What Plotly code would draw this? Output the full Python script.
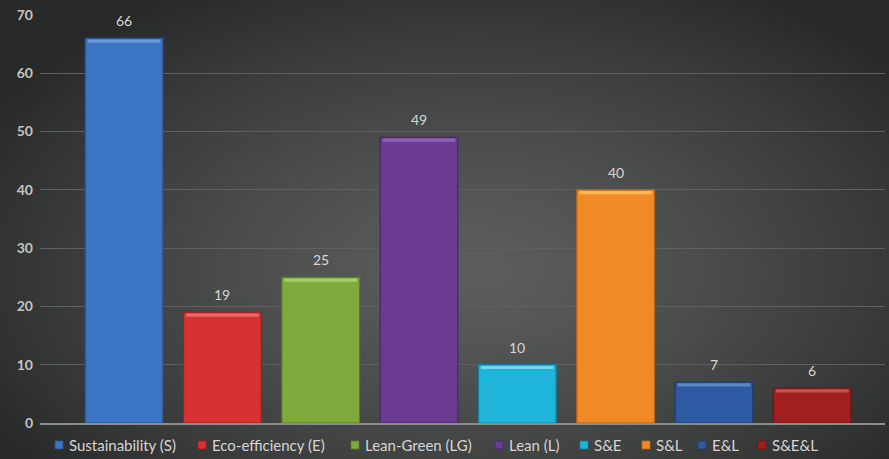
import base64
import struct
import zlib

import numpy as np
import plotly.graph_objects as go

categories = ["Sustainability (S)", "Eco-efficiency (E)", "Lean-Green (LG)", "Lean (L)",
              "S&E", "S&L", "E&L", "S&E&L"]
counts = [66, 19, 25, 49, 10, 40, 7, 6]
face_colors = ["#3b74c2", "#d83131", "#7fab3d", "#6b3b93", "#1fb4da", "#f08a25", "#2d5aa3", "#a11f1f"]
top_colors = ["#7aa6e0", "#f07a7a", "#b3d67a", "#9b70c0", "#8fe0f3", "#ffc86a", "#6f95d0", "#d86060"]
edge_colors = ["#285494", "#9e2020", "#5a7d26", "#4a2668", "#12809e", "#b5641a", "#1d3d70", "#6e1414"]
y_ticks = [0, 10, 20, 30, 40, 50, 60, 70]

W, H = 889, 459
M_L, M_R, M_T, M_B = 40, 4, 15, 36
PW, PH = W - M_L - M_R, H - M_T - M_B

# left edge (px) of each legend entry's label, and the row's vertical centre
legend_text_x = [67, 210, 363, 507, 592, 654, 710, 770]
legend_row_y = 445
FONT = "Lato, Open Sans, sans-serif"


def png_data_uri(rgb):
    h, w, _ = rgb.shape
    raw = b"".join(b"\x00" + rgb[i].tobytes() for i in range(h))

    def chunk(tag, data):
        c = struct.pack(">I", len(data)) + tag + data
        return c + struct.pack(">I", zlib.crc32(tag + data) & 0xFFFFFFFF)

    png = (b"\x89PNG\r\n\x1a\n"
           + chunk(b"IHDR", struct.pack(">IIBBBBB", w, h, 8, 2, 0, 0, 0))
           + chunk(b"IDAT", zlib.compress(raw, 9))
           + chunk(b"IEND", b""))
    return "data:image/png;base64," + base64.b64encode(png).decode()


def px_to_paper_x(px):
    return (px - M_L) / PW


def px_to_paper_y(py):
    return (H - M_B - py) / PH


# dark radial backdrop, lighter toward the middle of the chart
gw, gh = 222, 115
yy, xx = np.mgrid[0:gh, 0:gw]
px = xx / (gw - 1) * W
py = yy / (gh - 1) * H
r = np.sqrt(((px - 470) / 560) ** 2 + ((py - 270) / 330) ** 2)
lum = np.clip(92 - 52 * r ** 1.3, 40, 95)
bg = np.stack([lum, lum + 1, lum + 1], axis=-1).astype(np.uint8)
bg_uri = png_data_uri(bg)

fig = go.Figure()

for cat, val, fc, ec in zip(categories, counts, face_colors, edge_colors):
    fig.add_trace(go.Bar(
        x=[cat], y=[val], name=cat,
        marker=dict(color=fc, line=dict(color=ec, width=1.2)),
        width=0.79, showlegend=False, hoverinfo="x+y",
    ))

# bevelled highlight strip along the top of each bar
for cat, val, tc in zip(categories, counts, top_colors):
    fig.add_trace(go.Bar(
        x=[cat], y=[0.55], base=[val - 0.75],
        marker=dict(color=tc, line=dict(width=0), opacity=0.75),
        width=0.74, showlegend=False, hoverinfo="skip",
    ))

for cat, val in zip(categories, counts):
    fig.add_annotation(
        x=cat, y=val, text=str(val), showarrow=False, yanchor="bottom", yshift=7,
        font=dict(family=FONT, size=14, color="#d6d6d6"),
    )

# legend row: small square swatch followed by the series name
for cat, fc, ec, tx in zip(categories, face_colors, edge_colors, legend_text_x):
    x0, x1 = tx - 12, tx - 4
    y0, y1 = legend_row_y + 4, legend_row_y - 4
    fig.add_shape(
        type="rect", xref="paper", yref="paper",
        x0=px_to_paper_x(x0), x1=px_to_paper_x(x1),
        y0=px_to_paper_y(y0), y1=px_to_paper_y(y1),
        fillcolor=fc, line=dict(color=ec, width=0.8), layer="above",
    )
    fig.add_annotation(
        xref="paper", yref="paper", x=px_to_paper_x(tx), y=px_to_paper_y(legend_row_y),
        text=cat, showarrow=False, xanchor="left", yanchor="middle",
        font=dict(family=FONT, size=15, color="#d6d6d6"),
    )

fig.update_layout(
    width=W, height=H,
    margin=dict(l=M_L, r=M_R, t=M_T, b=M_B),
    paper_bgcolor="#3e3e3e",
    plot_bgcolor="rgba(0,0,0,0)",
    barmode="overlay",
    showlegend=False,
    images=[dict(
        source=bg_uri, xref="paper", yref="paper",
        x=-M_L / PW, y=1 + M_T / PH, sizex=W / PW, sizey=H / PH,
        xanchor="left", yanchor="top", sizing="stretch", layer="below",
    )],
    xaxis=dict(
        type="category", categoryorder="array", categoryarray=categories,
        range=[-0.855, 7.74], showticklabels=False, showgrid=False,
        showline=True, linecolor="#8c8c8c", linewidth=1.5, zeroline=False, ticks="",
    ),
    yaxis=dict(
        range=[0, 70], tickvals=y_ticks, showgrid=True, gridcolor="#606060", gridwidth=1,
        zeroline=False, showline=False, ticks="", ticklabelstandoff=6,
        tickfont=dict(family=FONT, size=14, color="#c4c4c4", weight="bold"),
    ),
)

fig.write_html("out.html")
